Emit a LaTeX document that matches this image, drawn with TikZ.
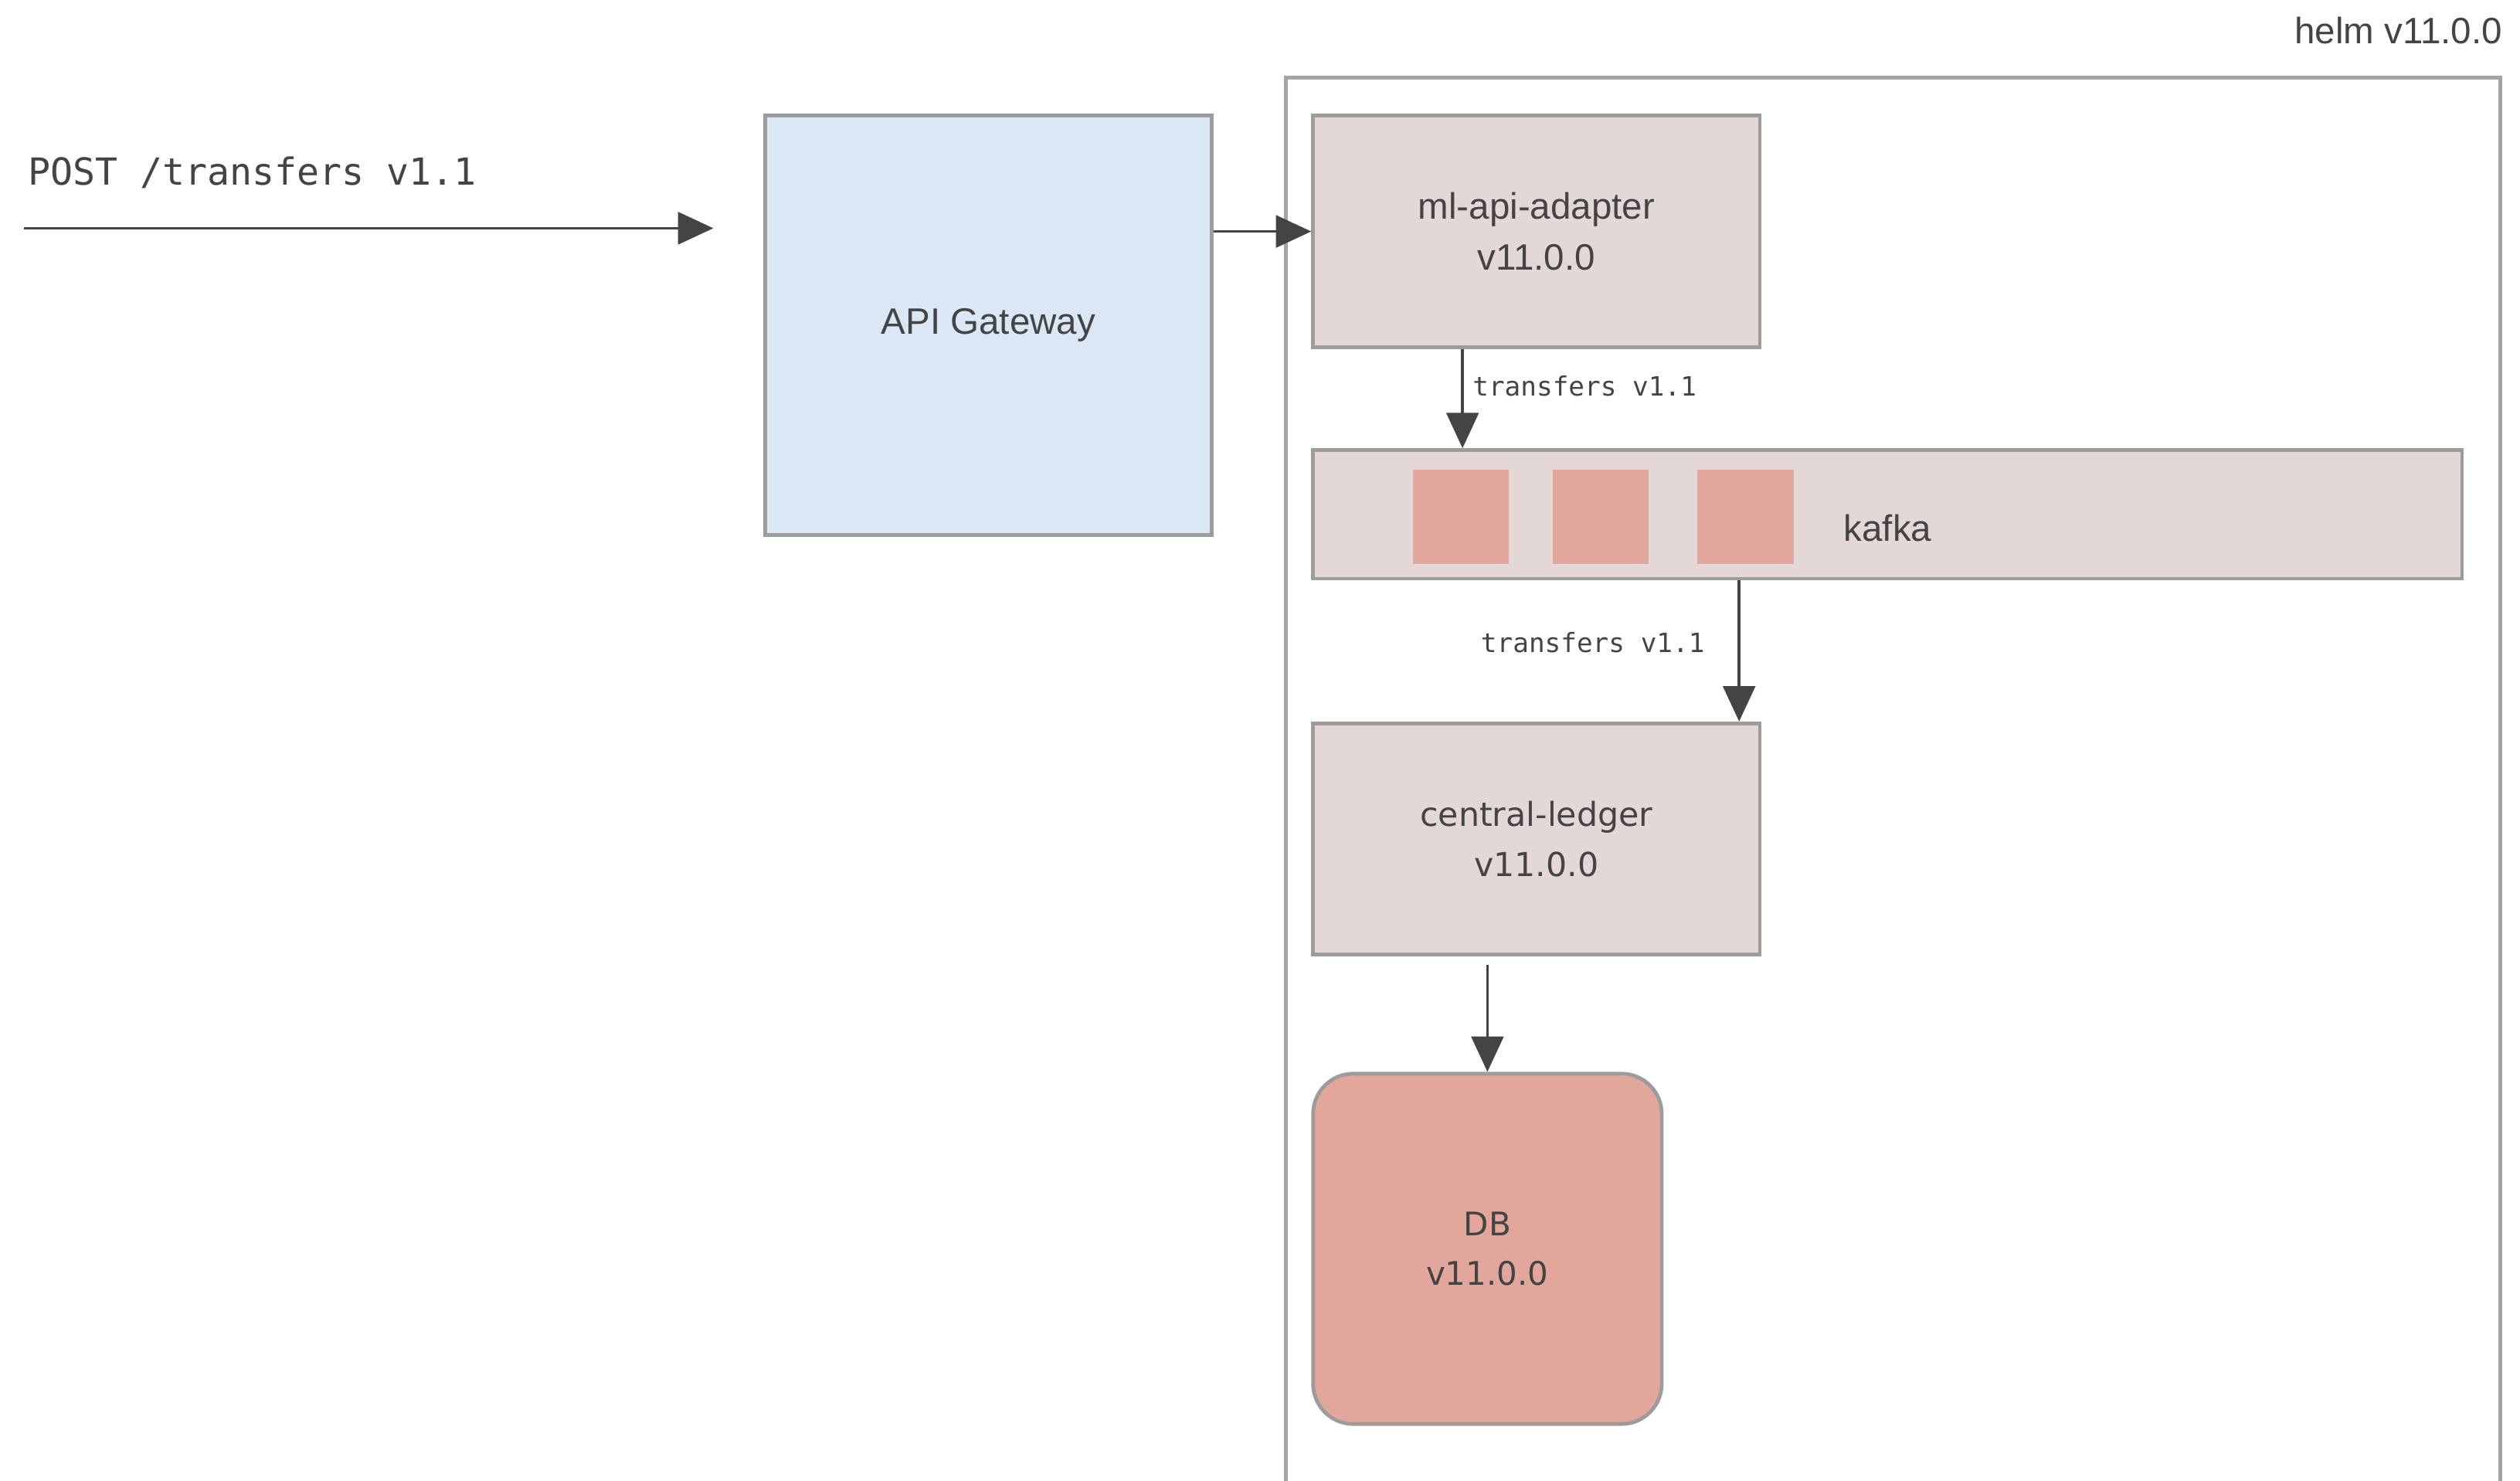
\documentclass[tikz,border=0pt]{standalone}
\usepackage{fontspec}
\setmainfont{Liberation Sans}
\newfontfamily\dejavu{DejaVu Sans}
\newfontfamily\mono{DejaVu Sans Mono}
\usepackage{xcolor}
\usepackage{tikz}
\usetikzlibrary{arrows.meta, positioning, calc}

\definecolor{boxfill}{HTML}{E4D8D7}
\definecolor{boxline}{HTML}{9C9C9C}
\definecolor{helmline}{HTML}{A4A4A4}
\definecolor{gwfill}{HTML}{DAE7F5}
\definecolor{salmon}{HTML}{E2A69B}
\definecolor{ink}{HTML}{444444}

\begin{document}
\begin{tikzpicture}[
    x=0.02cm, y=-0.02cm,
    box/.style={rectangle, draw=boxline, line width=1.3pt, fill=boxfill, minimum width=5.56cm, minimum height=2.88cm, align=center, text=ink, font=\fontsize{13}{18}\selectfont},
    dbbox/.style={box, fill=salmon, rounded corners=0.5cm, minimum width=4.34cm, minimum height=4.36cm, font=\dejavu\fontsize{11.5}{17.6}\selectfont},
    part/.style={rectangle, fill=salmon, minimum width=1.2cm, minimum height=1.18cm},
    arrow/.style={-{Triangle[length=0.44cm, width=0.4cm]}, line width=1pt, draw=ink},
    tag/.style={text=ink, inner sep=0pt, font=\mono\fontsize{9.4}{11}\selectfont},
]
\useasboundingbox (0,0) rectangle (1568,921);

% helm release frame
\node[rectangle, draw=helmline, line width=1.4pt, minimum width=15.12cm, minimum height=17.8cm] (helm) at (1178,493) {};
\node[anchor=base east, inner sep=0pt, text=ink, font=\fontsize{13}{16}\selectfont] (helmtag) at ([yshift=0.39cm]helm.north east) {helm v11.0.0};

\node[box, fill=gwfill, minimum height=5.22cm] (gw) at (615,202.5) {API Gateway};
\node[box] (adapter) at (956,144) {ml-api-adapter\\v11.0.0};
\node[box, minimum width=14.3cm, minimum height=1.6cm, text height=0.66cm, text depth=0cm] (kafka) at (1174.5,320) {kafka};
\foreach \x [count=\i] in {909,996,1086}
    \node[part] (part\i) at (\x,321.5) {};
\node[box, font=\dejavu\fontsize{11.7}{17.6}\selectfont] (ledger) at (956,522) {central-ledger\\v11.0.0};
\node[dbbox] (db) at (925.5,777) {DB\\v11.0.0};

% incoming request
\coordinate (client) at (15,142);
\node[tag, anchor=base west, font=\mono\fontsize{13.2}{16}\selectfont] (post) at (17,115) {POST /transfers v1.1};

\draw[arrow, shorten >=0.62cm] (client) -- (gw.west |- client);
\draw[arrow] (gw.east |- adapter.west) -- (adapter.west);
\draw[arrow] ([xshift=-0.92cm]adapter.south) -- ([xshift=-0.92cm]adapter.south |- kafka.north);
\draw[arrow] ([xshift=-0.28cm]ledger.north east |- kafka.south) -- ([xshift=-0.28cm]ledger.north east);
\draw[arrow, shorten <=0.1cm] (db.north |- ledger.south) -- (db.north);

\node[tag, anchor=west] (tag1) at (916,240) {transfers v1.1};
\node[tag, anchor=east] (tag2) at (1061,400) {transfers v1.1};

\end{tikzpicture}
\end{document}
